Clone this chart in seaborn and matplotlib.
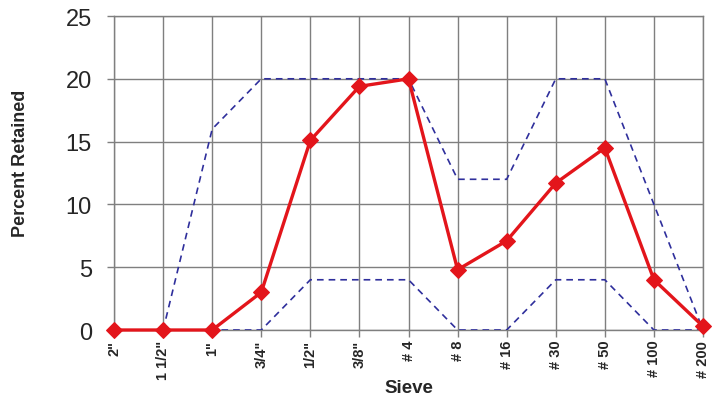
import numpy as np
import pandas as pd
import matplotlib
matplotlib.use("Agg")
import matplotlib.pyplot as plt
import seaborn as sns

# sieve sizes and gradation data
sieves = ['2"', '1 1/2"', '1"', '3/4"', '1/2"', '3/8"', '# 4', '# 8',
          '# 16', '# 30', '# 50', '# 100', '# 200']
retained = [0, 0, 0, 3.0, 15.1, 19.4, 20.0, 4.8, 7.1, 11.7, 14.5, 4.0, 0.3]
upper_limit = [np.nan, 0, 16, 20, 20, 20, 20, 12, 12, 20, 20, 10, 0]
lower_limit = [np.nan, 0, 0, 0, 4, 4, 4, 0, 0, 4, 4, 0, 0]

df = pd.DataFrame({
    "pos": np.arange(len(sieves)),
    "Sieve": sieves,
    "retained": retained,
    "upper": upper_limit,
    "lower": lower_limit,
})

sns.set_style("white")
plt.rcParams["font.family"] = ["Liberation Sans", "DejaVu Sans"]

fig = plt.figure(figsize=(7.24, 4.02), dpi=100)
ax = fig.add_axes([0.1575, 0.1766, 0.8135, 0.7811])

grid_col = "#7f7f7f"
blue = "#2f2f9c"
red = "#e3151b"

# spec band (dashed)
for col in ["upper", "lower"]:
    sub = df.dropna(subset=[col])
    sns.lineplot(data=sub, x="pos", y=col, ax=ax, sort=False, color=blue,
                 linewidth=1.2, dashes=False, zorder=3)
for line in ax.lines:
    line.set_linestyle((0, (4, 3)))

# actual gradation
sns.lineplot(data=df, x="pos", y="retained", ax=ax, sort=False, color=red,
             linewidth=2.4, marker="D", markersize=8, markeredgecolor=red,
             zorder=5, clip_on=False)

ax.set_xlim(0, len(sieves) - 1)
ax.set_ylim(0, 25)
ax.set_xticks(df["pos"])
ax.set_xticklabels(sieves, rotation=90, fontsize=10.5, fontweight="bold")
ax.set_yticks(range(0, 26, 5))
ax.tick_params(axis="y", labelsize=17, length=5, width=1, color=grid_col,
               pad=11, left=True)
ax.tick_params(axis="x", length=5, width=1, color=grid_col, pad=2,
               bottom=True)

ax.grid(True, color=grid_col, linewidth=1)
ax.set_axisbelow(True)
for sp in ax.spines.values():
    sp.set_color(grid_col)
    sp.set_linewidth(1)

ax.set_xlabel("Sieve", fontsize=13.5, fontweight="bold")
ax.set_ylabel("Percent Retained", fontsize=13, fontweight="bold")
ax.xaxis.set_label_coords(0.5, -0.155)
ax.yaxis.set_label_coords(-0.145, 0.535)

fig.savefig("out.png", dpi=100)
